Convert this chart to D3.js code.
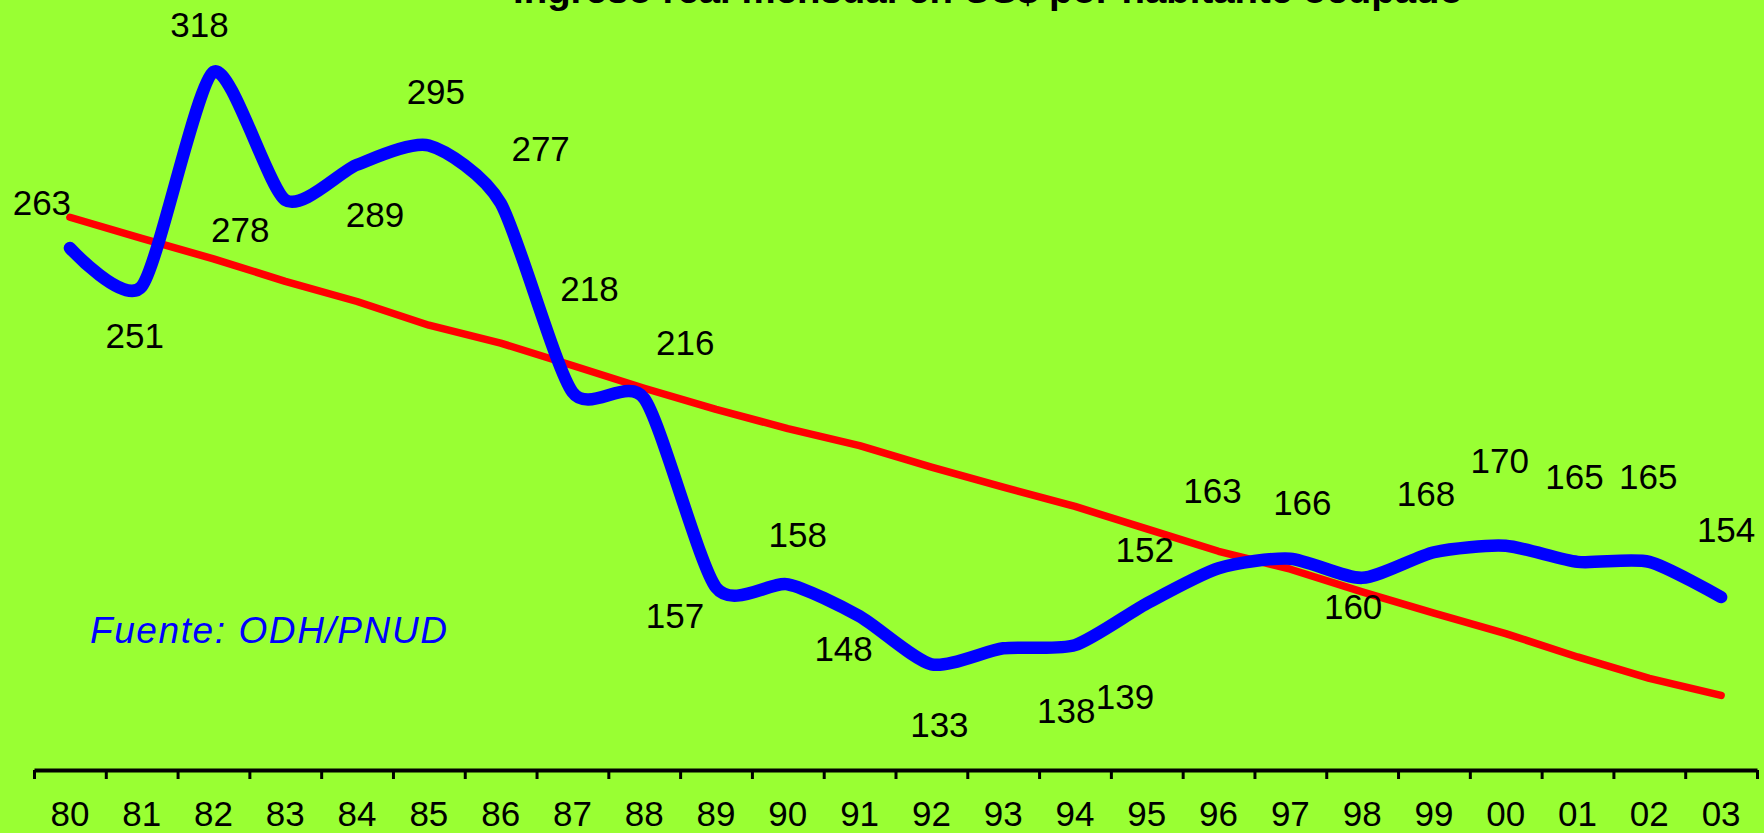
<!DOCTYPE html>
<html>
<head>
<meta charset="utf-8">
<script src="https://cdn.jsdelivr.net/npm/d3@7"></script>
<style>
  html, body { margin: 0; padding: 0; background: #99FF33; overflow: hidden; }
  svg { display: block; }
</style>
</head>
<body>
<svg id="chart" width="1764" height="833"></svg>
<script>
// ---- data ----
const years = ["80","81","82","83","84","85","86","87","88","89","90","91",
               "92","93","94","95","96","97","98","99","00","01","02","03"];
const income = [263,251,318,278,289,295,277,218,216,157,158,148,
                133,138,139,152,163,166,160,168,170,165,165,154];
const trend = [272.6,266.0,259.6,252.6,246.3,238.9,233.3,226.3,219.2,212.6,206.6,201.3,
               194.6,188.3,182.3,175.3,168.3,162.7,155.6,149.0,142.6,135.3,128.6,123.3];
const titleText = "Ingreso real mensual en US$ por habitante ocupado";
const sourceText = "Fuente: ODH/PNUD";

// ---- label layout (offsets from each point, px) ----
const labelOffsets = [
  [-28,-33],[-7,62],[-14,-35],[-45,42],[18,62],[7,-42],[40,-42],[17,-91],
  [41,-44],[-41,41],[10,-37],[-16,45],[8,73],[63,75],[50,64],[-2,-41],
  [-6,-65],[12,-44],[-9,41],[-8,-46],[-6,-73],[-3,-73],[-1,-73],[5,-55]
];

const svg = d3.select("#chart");
const left = 34, right = 1757, axisY = 770;
const font = "Liberation Sans, Arial, sans-serif";

const x = d3.scaleBand().domain(years).range([left, right]).padding(0);
const xb = d3.scaleLinear().domain([0, years.length]).range([left, right]);
const y = d3.scaleLinear().domain([100, 350]).range([axisY, -30.6]);

const cx = d => x(d) + x.bandwidth() / 2;

// title (cropped at top, as in the reference)
svg.append("text")
  .attr("x", 1463).attr("y", 3)
  .attr("text-anchor", "end")
  .attr("font-family", font)
  .attr("font-weight", "bold")
  .attr("font-size", 37)
  .attr("textLength", 950)
  .attr("lengthAdjust", "spacingAndGlyphs")
  .attr("fill", "#000")
  .text(titleText);

// trend line
svg.append("path")
  .datum(trend)
  .attr("fill", "none")
  .attr("stroke", "#FF0000")
  .attr("stroke-width", 7.5)
  .attr("stroke-linecap", "round")
  .attr("stroke-linejoin", "round")
  .attr("d", d3.line().x((d, i) => cx(years[i])).y(d => y(d)));

// main series
svg.append("path")
  .datum(income)
  .attr("fill", "none")
  .attr("stroke", "#0000FF")
  .attr("stroke-width", 12.5)
  .attr("stroke-linecap", "round")
  .attr("stroke-linejoin", "round")
  .attr("d", d3.line().x((d, i) => cx(years[i])).y(d => y(d)).curve(d3.curveCardinal.tension(0.3)));

// data labels
svg.append("g").selectAll("text")
  .data(income)
  .join("text")
  .attr("x", (d, i) => cx(years[i]) + labelOffsets[i][0])
  .attr("y", (d, i) => y(d) + labelOffsets[i][1])
  .attr("text-anchor", "middle")
  .attr("font-family", font)
  .attr("font-size", 35)
  .attr("fill", "#000")
  .text(d => d);

// x axis: boundary ticks
const tickAxis = d3.axisBottom(xb)
  .tickValues(d3.range(0, years.length + 1))
  .tickFormat("")
  .tickSizeInner(9)
  .tickSizeOuter(0);
const gTicks = svg.append("g").attr("transform", `translate(0,${axisY})`).call(tickAxis);
gTicks.select(".domain").attr("stroke", "#000").attr("stroke-width", 4);
gTicks.selectAll(".tick line").attr("stroke", "#000").attr("stroke-width", 3);

// x axis: category labels
const labAxis = d3.axisBottom(x).tickSize(0).tickPadding(0);
const gLab = svg.append("g").attr("transform", `translate(0,${axisY})`).call(labAxis);
gLab.select(".domain").remove();
gLab.selectAll(".tick text")
  .attr("y", 56)
  .attr("dy", 0)
  .attr("font-family", font)
  .attr("font-size", 35)
  .attr("fill", "#000");

// source note
svg.append("text")
  .attr("x", 90).attr("y", 643)
  .attr("font-family", font)
  .attr("font-style", "italic")
  .attr("font-size", 37)
  .attr("fill", "#0000FF")
  .attr("textLength", 357)
  .attr("lengthAdjust", "spacing")
  .text(sourceText);
</script>
</body>
</html>
